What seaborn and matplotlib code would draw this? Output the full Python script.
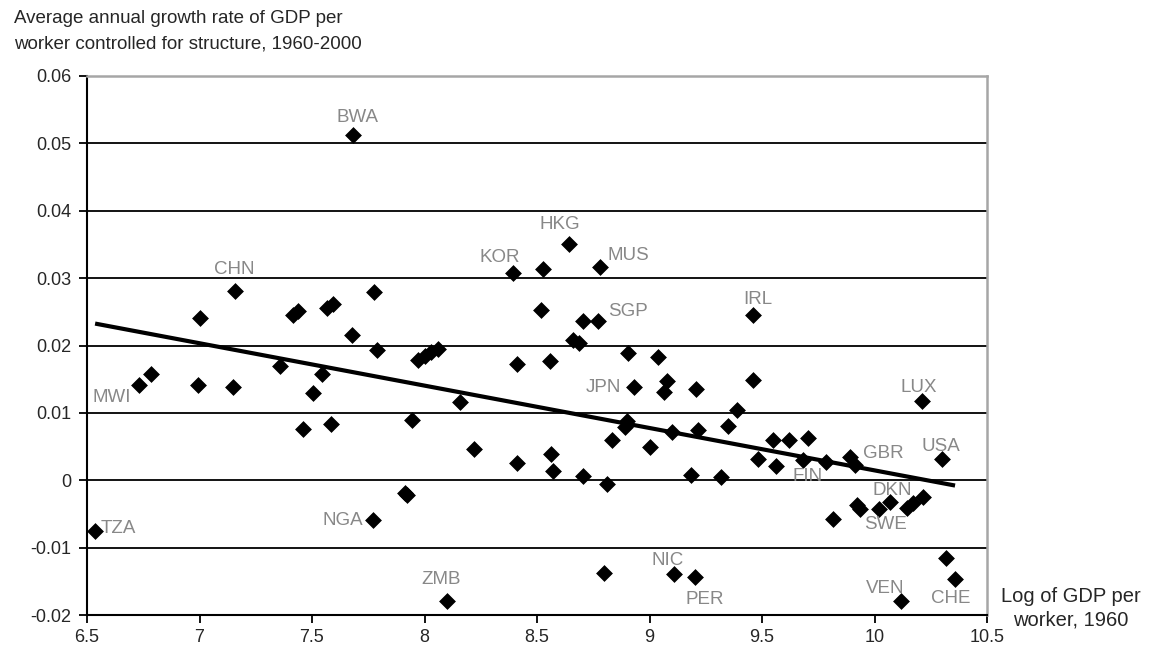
import numpy as np
import pandas as pd
import seaborn as sns
import matplotlib.pyplot as plt

# log GDP per worker in 1960 and controlled growth rate
gdp_1960 = [6.536, 6.731, 6.783, 6.995, 7.002, 7.147, 7.158, 7.358, 7.417, 7.436,
            7.459, 7.503, 7.546, 7.565, 7.595, 7.583, 7.676, 7.683, 7.773, 7.776,
            7.788, 7.914, 7.924, 7.943, 7.971, 8.000, 8.030, 8.060, 8.099, 8.158,
            8.220, 8.395, 8.410, 8.410, 8.516, 8.525, 8.558, 8.561, 8.570, 8.642,
            8.660, 8.685, 8.703, 8.703, 8.770, 8.780, 8.798, 8.810, 8.835, 8.890,
            8.900, 8.903, 8.933, 9.000, 9.039, 9.066, 9.076, 9.099, 9.109, 9.183,
            9.202, 9.207, 9.217, 9.316, 9.347, 9.388, 9.459, 9.460, 9.484, 9.547,
            9.562, 9.621, 9.681, 9.703, 9.784, 9.817, 9.891, 9.913, 9.924, 9.936,
            10.021, 10.069, 10.118, 10.143, 10.172, 10.210, 10.217, 10.299, 10.318, 10.358]
growth = [-0.0076, 0.0142, 0.0157, 0.0142, 0.0241, 0.0138, 0.0281, 0.0169, 0.0245, 0.0251,
          0.0076, 0.0130, 0.0158, 0.0255, 0.0262, 0.0083, 0.0216, 0.0512, -0.0059, 0.0280,
          0.0193, -0.0019, -0.0022, 0.0090, 0.0178, 0.0184, 0.0190, 0.0195, -0.0179, 0.0116,
          0.0047, 0.0307, 0.0173, 0.0026, 0.0252, 0.0314, 0.0177, 0.0039, 0.0014, 0.0351,
          0.0208, 0.0204, 0.0237, 0.0006, 0.0236, 0.0316, -0.0138, -0.0006, 0.0059, 0.0079,
          0.0088, 0.0189, 0.0138, 0.0050, 0.0183, 0.0131, 0.0148, 0.0072, -0.0139, 0.0008,
          -0.0143, 0.0136, 0.0074, 0.0005, 0.0080, 0.0104, 0.0245, 0.0149, 0.0032, 0.0059,
          0.0021, 0.0059, 0.0030, 0.0062, 0.0027, -0.0057, 0.0035, 0.0022, -0.0036, -0.0042,
          -0.0042, -0.0032, -0.0179, -0.0041, -0.0034, 0.0118, -0.0025, 0.0032, -0.0116, -0.0146]

# country codes and where their text sits
codes = ['BWA', 'CHN', 'HKG', 'KOR', 'MUS', 'SGP', 'IRL', 'LUX', 'USA', 'GBR', 'FIN',
         'DKN', 'SWE', 'VEN', 'CHE', 'JPN', 'NIC', 'PER', 'ZMB', 'NGA', 'TZA', 'MWI']
code_x = [7.70, 7.153, 8.602, 8.336, 8.904, 8.904, 9.482, 10.198, 10.296, 10.04, 9.704,
          10.078, 10.047, 10.047, 10.34, 8.793, 9.082, 9.247, 8.073, 7.638, 6.638, 6.611]
code_y = [0.0539, 0.0313, 0.0380, 0.0331, 0.0334, 0.0251, 0.0269, 0.0138, 0.0050, 0.0040,
          0.0006, -0.0015, -0.0065, -0.0160, -0.0175, 0.0137, -0.0119, -0.0177, -0.0148,
          -0.0059, -0.0071, 0.0123]

y_ticks = [-0.02, -0.01, 0, 0.01, 0.02, 0.03, 0.04, 0.05, 0.06]
y_labels = ['-0.02', '-0.01', '0', '0.01', '0.02', '0.03', '0.04', '0.05', '0.06']
x_ticks = [6.5, 7, 7.5, 8, 8.5, 9, 9.5, 10, 10.5]
x_labels = ['6.5', '7', '7.5', '8', '8.5', '9', '9.5', '10', '10.5']

df = pd.DataFrame({'gdp': gdp_1960, 'growth': growth})

sns.set_style('white')
plt.rcParams['font.family'] = ['Liberation Sans', 'DejaVu Sans']

fig = plt.figure(figsize=(11.49, 6.51), dpi=100)
ax = fig.add_axes([87 / 1149, 1 - 615 / 651, 900 / 1149, 539 / 651])

sns.regplot(data=df, x='gdp', y='growth', scatter=False, ci=None, color='black',
            line_kws={'lw': 3, 'solid_capstyle': 'butt'}, ax=ax)
sns.scatterplot(data=df, x='gdp', y='growth', marker='D', color='black', s=65,
                edgecolor='black', linewidth=0.5, ax=ax, zorder=4)

for c, tx, ty in zip(codes, code_x, code_y):
    ax.text(tx, ty, c, color='#888888', fontsize=13.5, ha='center', va='center', zorder=5)

ax.set_xlim(6.5, 10.5)
ax.set_ylim(-0.02, 0.06)
ax.set_xticks(x_ticks)
ax.set_xticklabels(x_labels)
ax.set_yticks(y_ticks)
ax.set_yticklabels(y_labels)
ax.tick_params(axis='both', labelsize=13, length=6, width=1.3, color='black',
               direction='out', left=True, bottom=True)
ax.tick_params(axis='x', pad=4)
ax.tick_params(axis='y', pad=5)
ax.set_xlabel('')
ax.set_ylabel('')

ax.grid(axis='y', color='black', lw=1.3)
ax.set_axisbelow(True)
for side in ['left', 'bottom']:
    ax.spines[side].set_color('black')
    ax.spines[side].set_linewidth(1.5)
for side in ['top', 'right']:
    ax.spines[side].set_color('#a6a6a6')
    ax.spines[side].set_linewidth(1.8)

fig.text(0.012, 0.984, 'Average annual growth rate of GDP per\nworker controlled for structure, 1960-2000',
         fontsize=13.5, ha='left', va='top', linespacing=1.6)
fig.text(0.932, 0.066, 'Log of GDP per\nworker, 1960', fontsize=14.5,
         ha='center', va='center', linespacing=1.3)

fig.savefig('out.png', dpi=100)
